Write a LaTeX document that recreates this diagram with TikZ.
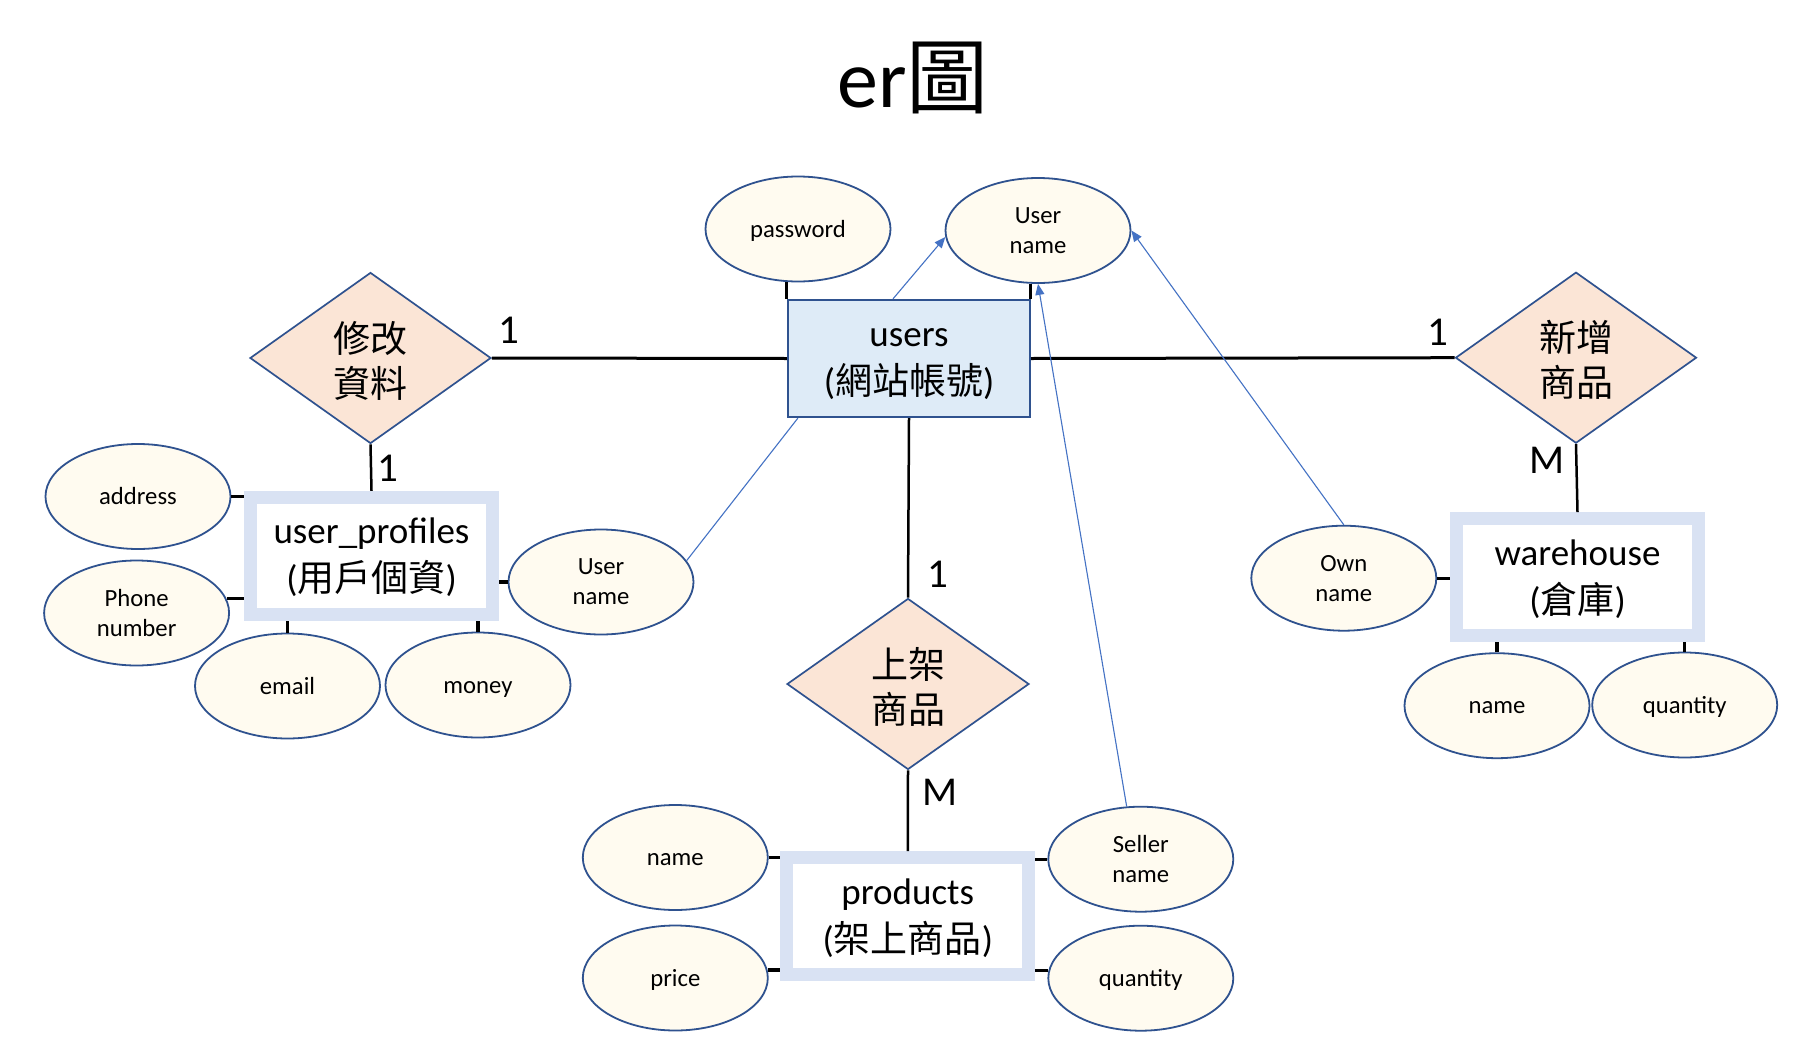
\documentclass[tikz,border=0pt]{standalone}
\usepackage{fontspec}
\setmainfont{Carlito}
\newfontfamily\cjk{Noto Sans CJK TC}
\usetikzlibrary{shapes.geometric,arrows.meta,calc}
\definecolor{bord}{HTML}{2F528F}
\definecolor{creamc}{HTML}{FFFBF0}
\definecolor{peach}{HTML}{FBE5D6}
\definecolor{ublue}{HTML}{DEEBF7}
\definecolor{wblue}{HTML}{D9E2F3}
\definecolor{lnkblue}{HTML}{4472C4}
\newcommand{\etop}{\rule{0pt}{30pt}}
\newcommand{\ebot}{\rule[-5.8pt]{0pt}{5.8pt}}
\newcommand{\dtop}{\rule{0pt}{38pt}}
\newcommand{\dbot}{\rule[-4.6pt]{0pt}{4.6pt}}
\newcommand{\one}{\rule[-4pt]{0pt}{24pt}}
\tikzset{
  attr/.style={ellipse, draw=bord, line width=1.8pt, fill=creamc, minimum width=185pt, minimum height=105pt, inner sep=0pt, font=\fontsize{24.7}{30}\selectfont, align=center},
  rel/.style={diamond, draw=bord, line width=1.7pt, fill=peach, minimum width=242pt, minimum height=171pt, inner sep=0pt, font=\cjk\fontsize{37}{45}\selectfont, align=center},
  ent/.style={rectangle, draw=bord, line width=2.3pt, fill=ublue, minimum width=242pt, minimum height=117pt, inner sep=0pt, font=\fontsize{37}{48}\selectfont, align=center},
  went/.style={rectangle, draw=wblue, line width=12.7pt, fill=white, minimum width=242pt, minimum height=117pt, inner sep=0pt, font=\fontsize{37}{48}\selectfont, align=center},
  conn/.style={line width=3pt, black},
  vconn/.style={line width=2.5pt, black},
  stub/.style={line width=3.2pt, black},
  lnk/.style={draw=lnkblue, line width=1.1pt},
  arr/.style={-{Triangle[length=11pt,width=9pt]}},
  card/.style={font=\fontsize{41}{41}\selectfont, inner sep=0pt},
  titlestyle/.style={font=\fontsize{82}{90}\selectfont, inner sep=0pt, anchor=base}
}
\begin{document}
\begin{tikzpicture}[x=1pt,y=-1pt]
\useasboundingbox[fill=white] (0,0) rectangle (1815,1044);

% title
\node[titlestyle] (title) at (913,107) {er{\cjk 圖}};

% entities
\node[ent] (users) at (909,358.5) {\etop users\\({\cjk 網站帳號})\ebot};
\node[went] (up) at (371.5,555.7) {\etop user\_profiles\\({\cjk 用戶個資})\ebot};
\node[went] (wh) at (1577.5,577) {\etop warehouse\\({\cjk 倉庫})\ebot};
\node[went] (prod) at (907.8,916) {\etop products\\({\cjk 架上商品})\ebot};

% relationships
\node[rel, minimum width=241pt] (d1) at (370.5,358) {\dtop 修改\\資料\dbot};
\node[rel, minimum width=241pt] (d2) at (1576,357.7) {\dtop 新增\\商品\dbot};
\node[rel] (d3) at (908,684) {\dtop 上架\\商品\dbot};

% attributes
\node[attr] (pw) at (798,229) {\one password};
\node[attr] (un1) at (1038,230.5) {User\\name};
\node[attr] (addr) at (138,496.5) {\one address};
\node[attr] (phone) at (136.6,613) {Phone\\number};
\node[attr] (email) at (287.5,686) {\one email};
\node[attr] (money) at (478,685) {\one money};
\node[attr] (un2) at (601,582) {User\\name};
\node[attr] (own) at (1343.8,578.2) {Own\\name};
\node[attr] (wn) at (1497,705.7) {\one name};
\node[attr] (wq) at (1684.7,705) {\one quantity};
\node[attr] (pn) at (675.3,857.5) {\one name};
\node[attr] (pp) at (675.3,978) {\one price};
\node[attr] (ps) at (1140.8,859.2) {Seller\\name};
\node[attr] (pq) at (1140.8,978.2) {\one quantity};

% main connectors
\draw[conn] (d1.east) -- (users.west);
\draw[conn] (users.east) -- (d2.west);
\draw[vconn] (d1.south) -- (up.north);
\draw[vconn] (users.south) -- (d3.north);
\draw[vconn] (d3.south) -- (prod.north);
\draw[vconn] (d2.south) -- (wh.north);

% cardinalities
\node[card] (c1) at (509,330) {1};
\node[card] (c2) at (388,468) {1};
\node[card] (c3) at (1437.7,332.7) {1};
\node[card] (c4) at (1546.7,460) {M};
\node[card] (c5) at (938,574) {1};
\node[card] (c6) at (940.5,792) {M};

% attribute stubs
\draw[stub] (users.north west) -- (users.north west |- pw.south);
\draw[stub] ($(users.north east)+(-1,0)$) -- ($(users.north east |- un1.south)+(-1,0)$);
\draw[stub] (addr.east) -- (addr.east -| up.west);
\draw[stub] (phone.9) -- (phone.9 -| up.west);
\draw[stub] (email.north) -- (email.north |- up.south);
\draw[stub] (money.north) -- (money.north |- up.south);
\draw[stub] (un2.west) -- (un2.west -| up.east);
\draw[stub] (own.east) -- (own.east -| wh.west);
\draw[stub] (wn.north) -- (wn.north |- wh.south);
\draw[stub] (wq.north) -- (wq.north |- wh.south);
\draw[stub] (pn.east) -- (pn.east -| prod.west);
\draw[stub] (pp.5) -- (pp.5 -| prod.west);
\draw[stub] (ps.west) -- (ps.west -| prod.east);
\draw[stub] (pq.175) -- (pq.175 -| prod.east);

% thin blue links
\coordinate (ut) at ($(users.north)+(-16,0)$);
\coordinate (ub) at ($(users.south west)+(11,0)$);
\draw[lnk,arr] (ut) -- (un1.184);
\draw[lnk] (un2.14) -- (ub);
\draw[lnk,arr] (ps.105) -- (un1.south);
\draw[lnk,arr] (own.north) -- (un1.east);
\end{tikzpicture}
\end{document}
